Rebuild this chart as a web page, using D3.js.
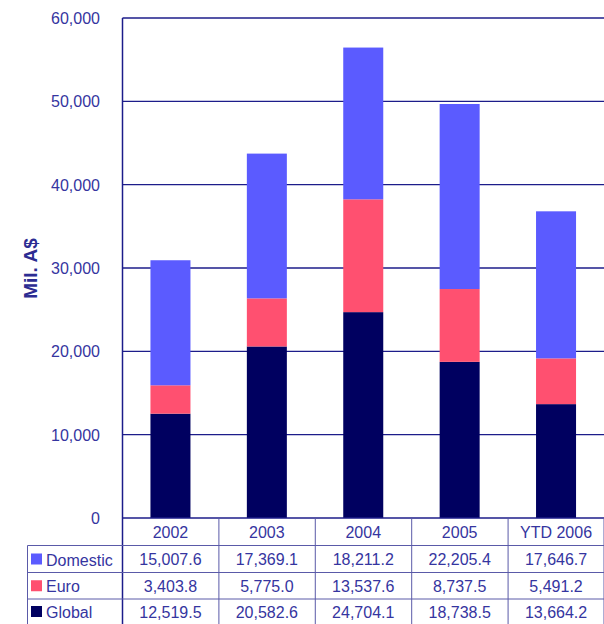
<!DOCTYPE html>
<html>
<head>
<meta charset="utf-8">
<script src="https://cdn.jsdelivr.net/npm/d3@7"></script>
<style>
  body { margin: 0; background: #fff; }
  svg { display: block; font-family: "Liberation Sans", Arial, sans-serif; }
</style>
</head>
<body>
<div id="chart"></div>
<script>
const years = ["2002", "2003", "2004", "2005", "YTD 2006"];
const series = ["Global", "Euro", "Domestic"];
const domestic = [15007.6, 17369.1, 18211.2, 22205.4, 17646.7];
const euro = [3403.8, 5775.0, 13537.6, 8737.5, 5491.2];
const global = [12519.5, 20582.6, 24704.1, 18738.5, 13664.2];
const yTicks = [0, 10000, 20000, 30000, 40000, 50000, 60000];

const colores = { Domestic: "#5b5bff", Euro: "#ff5070", Global: "#000060" };
const tinta = "#3535a0";
const linea = "#1c1c8a";

const WIDTH = 604, HEIGHT = 624;
const margin = { left: 122.5, right: 0, top: 18, bottom: 106 };

const SVG = d3.select("#chart").append("svg").attr("width", WIDTH).attr("height", HEIGHT);

const x = d3.scaleBand().domain(years).range([margin.left, WIDTH]).paddingInner(0.585).paddingOuter(0.29);
const y = d3.scaleLinear().domain([0, 60000]).range([HEIGHT - margin.bottom, margin.top]);

// gridlines
SVG.append("g").selectAll("line").data(yTicks.filter(d => d > 0)).join("line")
  .attr("x1", margin.left).attr("x2", WIDTH)
  .attr("y1", d => y(d)).attr("y2", d => y(d))
  .attr("stroke", linea).attr("stroke-width", 1.3);

// y tick labels
SVG.append("g").selectAll("text").data(yTicks).join("text")
  .attr("x", 100).attr("y", d => y(d) + 6)
  .attr("text-anchor", "end").attr("font-size", "16px").attr("fill", tinta)
  .text(d => d3.format(",")(d));

// stacked bars
const filas = years.map((yr, i) => ({ year: yr, Global: global[i], Euro: euro[i], Domestic: domestic[i] }));
const stack = d3.stack().keys(series)(filas);

SVG.append("g").selectAll("g").data(stack).join("g")
  .attr("fill", d => colores[d.key])
  .selectAll("rect").data(d => d).join("rect")
  .attr("x", d => x(d.data.year))
  .attr("width", x.bandwidth())
  .attr("y", d => y(d[1]))
  .attr("height", d => y(d[0]) - y(d[1]));

// y axis line + baseline
const base = y(0);
SVG.append("line").attr("x1", margin.left).attr("x2", margin.left).attr("y1", margin.top).attr("y2", HEIGHT)
  .attr("stroke", linea).attr("stroke-width", 1.5);
SVG.append("line").attr("x1", margin.left).attr("x2", WIDTH).attr("y1", base).attr("y2", base)
  .attr("stroke", linea).attr("stroke-width", 1.5);

// axis title
SVG.append("text")
  .attr("transform", `translate(37, 268.5) rotate(-90)`)
  .attr("text-anchor", "middle").attr("font-size", "19px").attr("font-weight", "bold").attr("fill", "#2c2c92")
  .text("Mil. A$");

// data table
const rowTops = [base, 545.5, 572.5, 599, HEIGHT];
const tablaLeft = 27.5;
const step = x.step();
const cellEdges = years.map((d, i) => margin.left + i * step).concat([WIDTH]);

const tabla = SVG.append("g").attr("stroke", "#5a5aa8").attr("stroke-width", 1);
tabla.selectAll("line.v").data(cellEdges.slice(1)).join("line").attr("class", "v")
  .attr("x1", d => d).attr("x2", d => d).attr("y1", base).attr("y2", HEIGHT);
tabla.selectAll("line.h").data(rowTops.slice(1, 4)).join("line").attr("class", "h")
  .attr("x1", tablaLeft).attr("x2", WIDTH).attr("y1", d => d).attr("y2", d => d);
tabla.append("line").attr("x1", tablaLeft).attr("x2", tablaLeft).attr("y1", rowTops[1]).attr("y2", HEIGHT);

// header
SVG.append("g").selectAll("text").data(years).join("text")
  .attr("x", d => x(d) + x.bandwidth() / 2).attr("y", (rowTops[0] + rowTops[1]) / 2 + 6)
  .attr("text-anchor", "middle").attr("font-size", "16px").attr("fill", tinta)
  .text(d => d);

const tablaSeries = [
  { name: "Domestic", values: domestic },
  { name: "Euro", values: euro },
  { name: "Global", values: global }
];

tablaSeries.forEach((s, r) => {
  const cy = (rowTops[r + 1] + rowTops[r + 2]) / 2;
  SVG.append("rect").attr("x", 31).attr("y", cy - 5.5).attr("width", 11).attr("height", 11).attr("fill", colores[s.name]);
  SVG.append("text").attr("x", 46).attr("y", cy + 6.5).attr("font-size", "16px").attr("fill", tinta).text(s.name);
  SVG.append("g").selectAll("text").data(s.values).join("text")
    .attr("x", (d, i) => x(years[i]) + x.bandwidth() / 2).attr("y", cy + 6)
    .attr("text-anchor", "middle").attr("font-size", "16px").attr("fill", tinta)
    .text(d => d3.format(",.1f")(d));
});
</script>
</body>
</html>
